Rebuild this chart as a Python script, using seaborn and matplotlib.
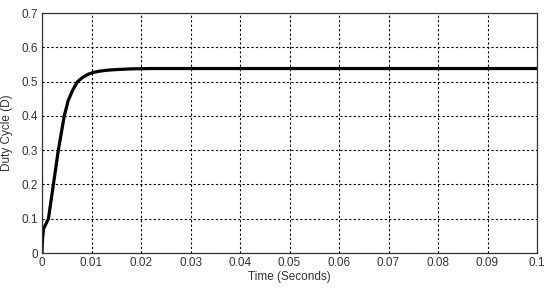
import numpy as np
import pandas as pd
import matplotlib
matplotlib.use("Agg")
import matplotlib.pyplot as plt
import seaborn as sns

# duty cycle response
time_s = [0.0, 0.0001, 0.0003, 0.0008, 0.0013, 0.0018, 0.0023, 0.0028, 0.0033, 0.0039,
          0.0045, 0.0053, 0.0062, 0.0072, 0.0082, 0.0094, 0.0105, 0.0115, 0.013, 0.015,
          0.018, 0.022, 0.03, 0.05, 0.07, 0.1]
duty = [0.0, 0.04, 0.07, 0.085, 0.10, 0.15, 0.20, 0.25, 0.30, 0.35,
        0.40, 0.445, 0.475, 0.50, 0.512, 0.522, 0.527, 0.530, 0.533, 0.535,
        0.537, 0.538, 0.538, 0.538, 0.538, 0.538]

x_ticks = [0, 0.01, 0.02, 0.03, 0.04, 0.05, 0.06, 0.07, 0.08, 0.09, 0.1]
x_labels = ["0", "0.01", "0.02", "0.03", "0.04", "0.05", "0.06", "0.07", "0.08", "0.09", "0.1"]
y_ticks = [0, 0.1, 0.2, 0.3, 0.4, 0.5, 0.6, 0.7]
y_labels = ["0", "0.1", "0.2", "0.3", "0.4", "0.5", "0.6", "0.7"]

df = pd.DataFrame({"t": time_s, "d": duty})

sns.set_style("white")
plt.rcParams["font.family"] = ["Liberation Sans", "DejaVu Sans"]

fig = plt.figure(figsize=(5.5, 2.94), dpi=100)
ax = fig.add_axes([42 / 550, 1 - 253 / 294, 495 / 550, 240 / 294])

sns.lineplot(data=df, x="t", y="d", ax=ax, color="black", linewidth=2.3)

ax.set_xlim(0, 0.1)
ax.set_ylim(0, 0.7)
ax.set_xticks(x_ticks)
ax.set_xticklabels(x_labels)
ax.set_yticks(y_ticks)
ax.set_yticklabels(y_labels)
ax.tick_params(direction="in", length=3, labelsize=8.5, colors="#333333", pad=3)
ax.grid(True, color="black", linestyle=(0, (2, 2)), linewidth=0.8)

for s in ax.spines.values():
    s.set_color("#333333")
    s.set_linewidth(0.9)

ax.set_xlabel("Time (Seconds)", fontsize=8.5, color="#333333", labelpad=1)
ax.set_ylabel("Duty Cycle (D)", fontsize=8.5, color="#333333", labelpad=6)

fig.savefig("out.png", dpi=100)
